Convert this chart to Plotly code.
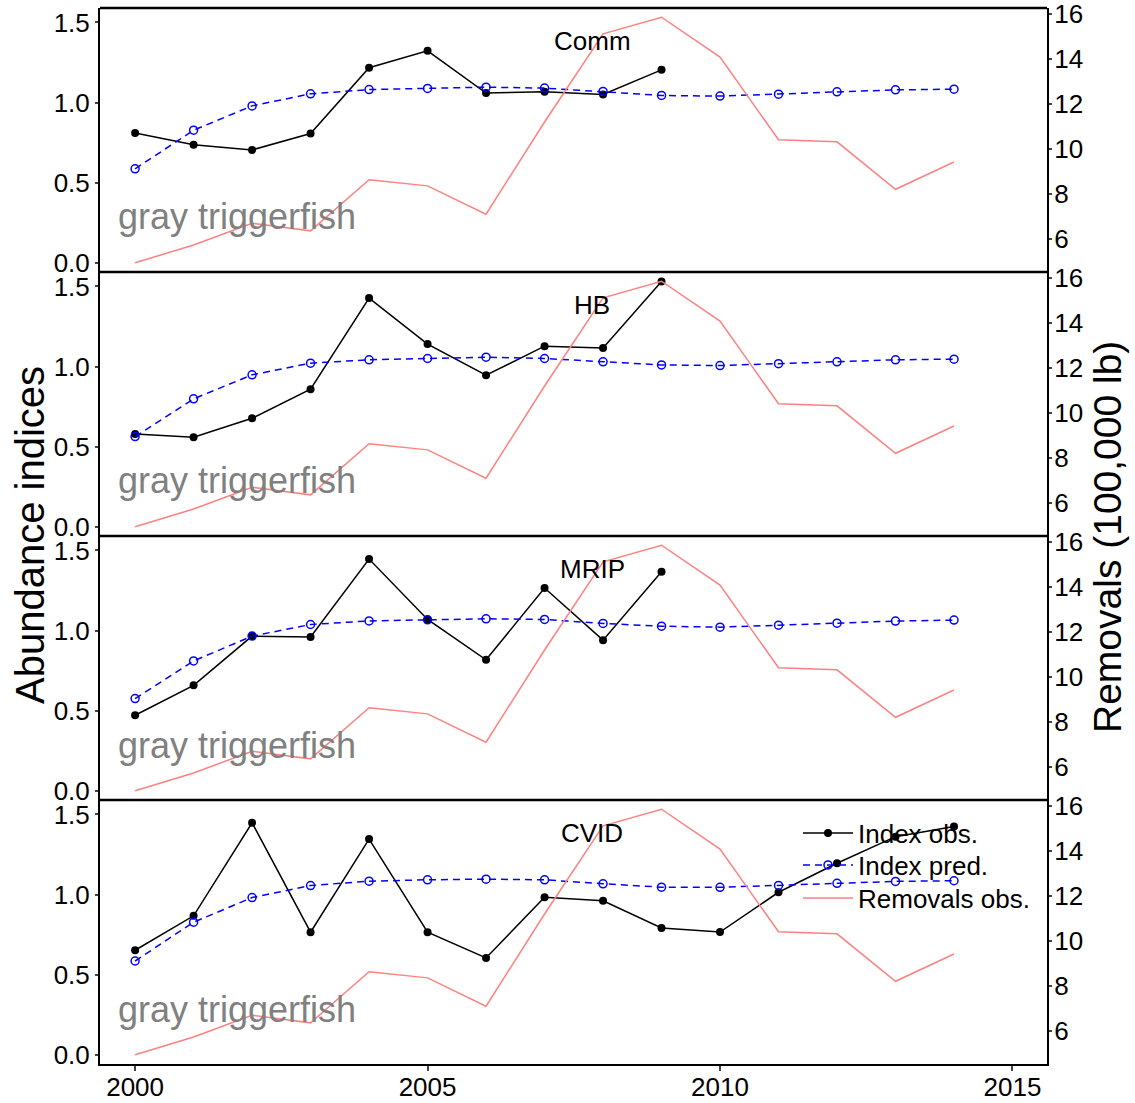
import plotly.graph_objects as go

# ---------------- data ----------------
years = list(range(2000, 2015))
obs_years = list(range(2000, 2010))
cvid_years = list(range(2000, 2015))

removals = [4.94, 5.73, 6.70, 6.36, 8.63, 8.36, 7.10, 11.2, 15.12, 15.86,
            14.09, 10.41, 10.32, 8.21, 9.42]

comm_obs = [0.81, 0.736, 0.704, 0.806, 1.217, 1.323, 1.059, 1.067, 1.05, 1.204]
comm_pred = [0.586, 0.827, 0.979, 1.054, 1.081, 1.088, 1.096, 1.09, 1.069, 1.044,
             1.040, 1.052, 1.067, 1.079, 1.083]

hb_obs = [0.579, 0.558, 0.677, 0.858, 1.427, 1.140, 0.946, 1.127, 1.115, 1.531]
hb_pred = [0.5625, 0.798, 0.948, 1.021, 1.042, 1.05, 1.058, 1.05, 1.029, 1.010,
           1.006, 1.018, 1.029, 1.042, 1.046]

mrip_obs = [0.471, 0.658, 0.965, 0.960, 1.446, 1.069, 0.817, 1.265, 0.940, 1.367]
mrip_pred = [0.575, 0.810, 0.965, 1.0375, 1.060, 1.067, 1.073, 1.069, 1.044, 1.027,
             1.021, 1.033, 1.046, 1.059, 1.065]

cvid_obs = [0.652, 0.867, 1.448, 0.765, 1.346, 0.765, 0.604, 0.983, 0.961, 0.791,
            0.766, 1.014, 1.195, 1.361, 1.424]
cvid_pred = [0.585, 0.827, 0.981, 1.056, 1.083, 1.092, 1.096, 1.092, 1.067, 1.046,
             1.045, 1.057, 1.070, 1.082, 1.086]

panel_names = ["Comm", "HB", "MRIP", "CVID"]
species = "gray triggerfish"
x_ticks = [2000, 2005, 2010, 2015]
left_ticks = [0.0, 0.5, 1.0, 1.5]
right_ticks = [6, 8, 10, 12, 14, 16]

# ---------------- styling ----------------
OBS_C = "black"
PRED_C = "#0000FF"
REM_C = "rgb(255,128,128)"
GRAY_C = "rgb(128,128,128)"
FONT = "Liberation Sans, Arial, Helvetica, sans-serif"
TICK_SIZE = 26

panels = [
    (panel_names[0], obs_years, comm_obs, comm_pred),
    (panel_names[1], obs_years, hb_obs, hb_pred),
    (panel_names[2], obs_years, mrip_obs, mrip_pred),
    (panel_names[3], cvid_years, cvid_obs, cvid_pred),
]

W, H = 1135, 1103
ML, MR, MT, MB = 100, 88, 8, 39
PH = H - MT - MB
PW = W - ML - MR


def py2paper(page_y):
    return (H - MB - page_y) / PH


def px2paper(page_x):
    return (page_x - ML) / PW


fig = go.Figure()
leg_common = dict(xanchor="left", yanchor="middle", bgcolor="rgba(0,0,0,0)",
                  font=dict(size=26, color="black"), itemwidth=50,
                  borderwidth=0)
layout = dict(
    width=W, height=H, autosize=False,
    margin=dict(l=ML, r=MR, t=MT, b=MB, pad=0),
    paper_bgcolor="white", plot_bgcolor="white",
    font=dict(family=FONT, size=TICK_SIZE, color="black"),
    showlegend=True,
    legend=dict(x=px2paper(798), y=py2paper(833), **leg_common),
    legend2=dict(x=px2paper(798), y=py2paper(865), **leg_common),
    legend3=dict(x=px2paper(798), y=py2paper(898), **leg_common),
    xaxis=dict(domain=[0, 1], anchor="y", range=[1999.40, 2015.59],
               tickvals=x_ticks, ticks="outside", ticklen=5, tickwidth=1.5,
               ticklabelstandoff=-6, ticklabeloverflow="allow",
               showline=True, linewidth=2, linecolor="black", automargin=False,
               showgrid=False, zeroline=False, tickfont=dict(size=TICK_SIZE)),
)

shapes = []
annotations = []
n = len(panels)
for i, (name, oyears, obs, pred) in enumerate(panels):
    k = n - i  # bottom panel -> 1
    lo, hi = (k - 1) / n, k / n
    lid = "y" if k == 1 else f"y{k}"
    rid = f"y{k + n}"
    lkey = "yaxis" if k == 1 else f"yaxis{k}"
    rkey = f"yaxis{k + n}"
    layout[lkey] = dict(domain=[lo, hi], anchor="x", range=[-0.058, 1.59],
                        tickvals=left_ticks, tickformat=".1f",
                        ticks="outside", ticklen=3, tickwidth=1.5,
                        ticklabeloverflow="allow",
                        showline=True, linewidth=2, linecolor="black",
                        showgrid=False, zeroline=False, automargin=False,
                        tickfont=dict(size=TICK_SIZE))
    layout[rkey] = dict(overlaying=lid, side="right", anchor="x",
                        range=[4.53, 16.27], tickvals=right_ticks,
                        ticks="outside", ticklen=3, tickwidth=1.5,
                        ticklabelstandoff=-3, ticklabeloverflow="allow",
                        showline=True, linewidth=2, linecolor="black",
                        showgrid=False, zeroline=False, automargin=False,
                        tickfont=dict(size=TICK_SIZE))
    first = (i == 0)
    fig.add_trace(go.Scatter(x=oyears, y=obs, mode="lines+markers",
                             name="Index obs.", showlegend=first, legend="legend",
                             line=dict(color=OBS_C, width=1.5),
                             marker=dict(color=OBS_C, size=8, symbol="circle"),
                             xaxis="x", yaxis=lid))
    fig.add_trace(go.Scatter(x=years, y=pred, mode="lines+markers",
                             name="Index pred.", showlegend=first, legend="legend2",
                             line=dict(color=PRED_C, width=1.5, dash="7px,5px"),
                             marker=dict(color=PRED_C, size=8, symbol="circle-open",
                                         line=dict(width=1.5)),
                             xaxis="x", yaxis=lid))
    fig.add_trace(go.Scatter(x=years, y=removals, mode="lines",
                             name="Removals obs.", showlegend=first, legend="legend3",
                             line=dict(color=REM_C, width=1.5),
                             xaxis="x", yaxis=rid))
    # top border of panel
    shapes.append(dict(type="line", xref="paper", yref="paper",
                       x0=0, x1=1, y0=hi, y1=hi,
                       line=dict(color="black", width=2.5)))
    annotations.append(dict(text=name, xref="paper", yref="paper",
                            x=0.52, y=hi - 33 / PH, xanchor="center",
                            yanchor="middle", showarrow=False,
                            font=dict(size=26, color="black")))
    annotations.append(dict(text=species, xref="paper", yref="paper",
                            x=0.017, y=hi - 209 / PH, xanchor="left",
                            yanchor="middle", showarrow=False,
                            font=dict(size=36, color=GRAY_C)))

annotations.append(dict(text="Abundance indices", xref="paper", yref="paper",
                        x=px2paper(30), y=py2paper(535), xanchor="center",
                        yanchor="middle", textangle=-90, showarrow=False,
                        font=dict(size=40, color="black")))
annotations.append(dict(text="Removals (100,000 lb)", xref="paper", yref="paper",
                        x=px2paper(1107), y=py2paper(537), xanchor="center",
                        yanchor="middle", textangle=-90, showarrow=False,
                        font=dict(size=39, color="black")))

layout["shapes"] = shapes
layout["annotations"] = annotations
fig.update_layout(**layout)
fig.write_html("out.html",
               config={"displayModeBar": False},
               post_script="document.body.style.margin='0';"
                           "document.body.style.overflow='hidden';")
